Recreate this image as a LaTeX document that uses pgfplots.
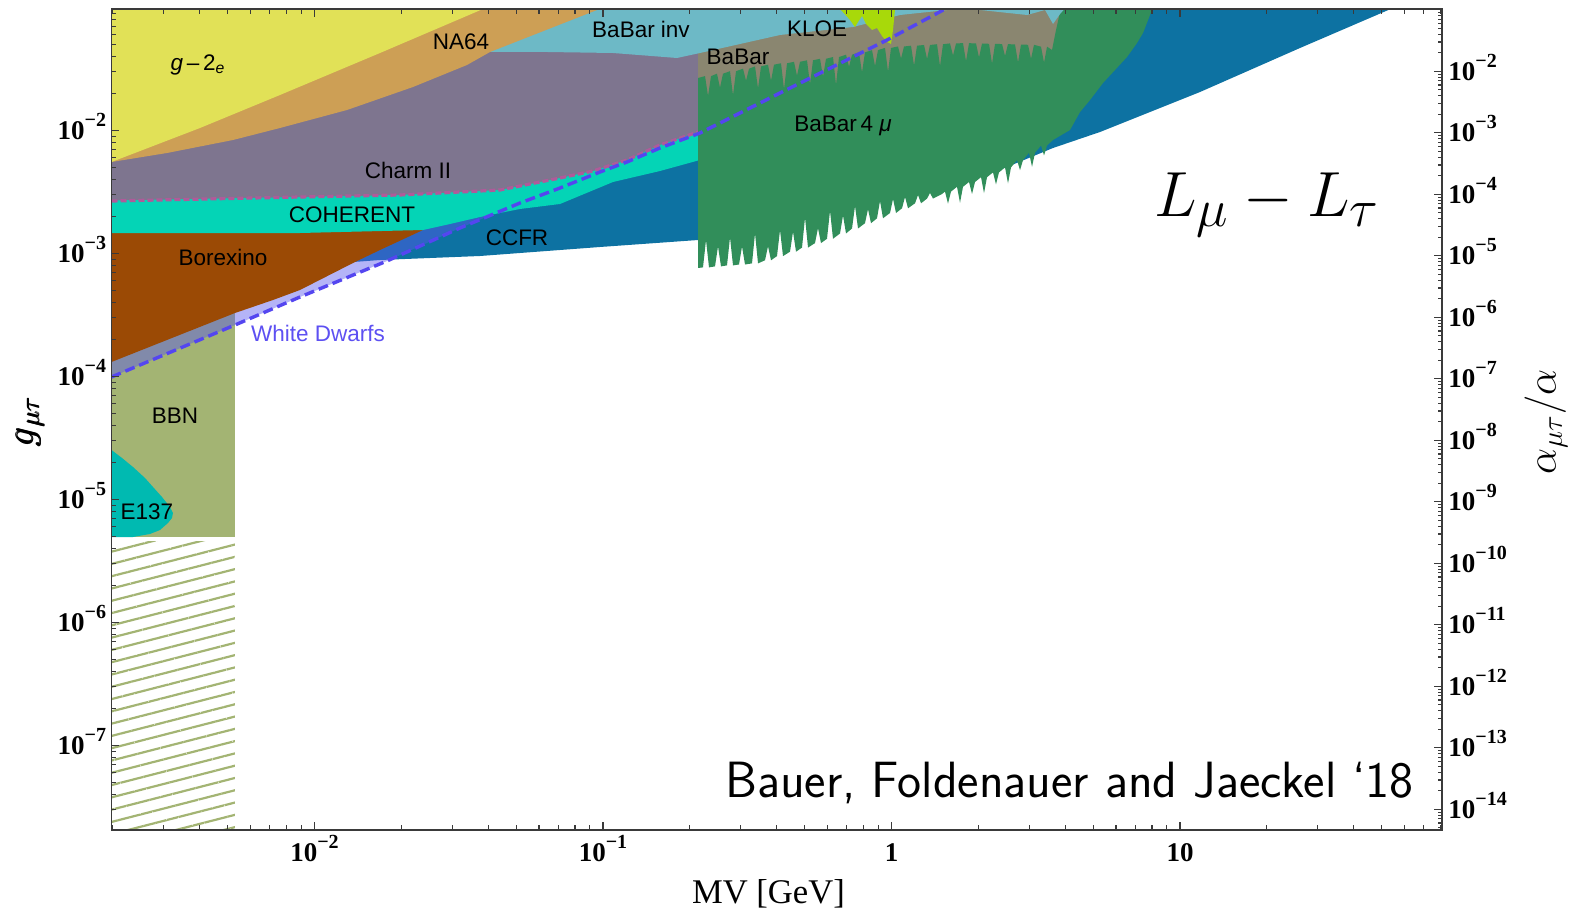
\documentclass[border=0pt]{standalone}
\usepackage{amsmath}
\usepackage{fontspec}
\usepackage{graphicx}
\usepackage{pgfplots}
\pgfplotsset{compat=1.18}
\usetikzlibrary{patterns.meta}

\newfontfamily\lsans{Liberation Sans}
\newfontfamily\lserif{Liberation Serif}

\definecolor{gtwo}{HTML}{E1E157}
\definecolor{nasf}{HTML}{CD9F55}
\definecolor{binv}{HTML}{6DB9C6}
\definecolor{charm}{HTML}{7E758F}
\definecolor{coh}{HTML}{04D4B6}
\definecolor{borex}{HTML}{9B4A05}
\definecolor{ccfr}{HTML}{0D72A2}
\definecolor{wdfill}{HTML}{5858ED}
\definecolor{wdline}{HTML}{5446F0}
\definecolor{wdtext}{HTML}{5D50F2}
\definecolor{bbn}{HTML}{A3B473}
\definecolor{eoneseven}{HTML}{00BAB1}
\definecolor{babar}{HTML}{8A8670}
\definecolor{babarfour}{HTML}{318E5A}
\definecolor{kloe}{HTML}{A8D90A}
\definecolor{charmline}{HTML}{B05A9A}
\definecolor{axgray}{HTML}{3A3A3A}

% bold power-of-ten tick labels
\newcommand\tlab[1]{10\raisebox{6.5pt}[0pt][0pt]{\fontsize{10pt}{10pt}\selectfont −#1}}
\newcommand\gsize{\fontsize{20.74pt}{24pt}\selectfont}
\newcommand\asize{\fontsize{20.74pt}{24pt}\selectfont}
\newcommand\mvfont{\lserif\fontsize{17.3pt}{20pt}\selectfont}
\newcommand\lsize{\fontsize{24.88pt}{30pt}\selectfont}
\newcommand\bfjfont{\sffamily\fontsize{25.5pt}{30pt}\selectfont}
\newcommand\labfont{\lsans\fontsize{11.25pt}{13pt}\selectfont}
\newcommand\tickfont{\lserif\bfseries\fontsize{13.5pt}{15pt}\selectfont}

% minor log ticks 2..9 x 10^e for e = #2..#3
\newcommand\buildminors[3]{%
  \gdef#1{}%
  \foreach \e in {#2,...,#3}{%
    \foreach \m in {2,...,9}{%
      \xdef#1{#1\m e\e,}%
    }%
  }%
  \xdef#1{#1 1e5}%
}
\buildminors\xminors{-3}{1}
\buildminors\yminors{-8}{-1}
\buildminors\rminors{-15}{-1}

\pgfplotsset{
  panel/.style={scale only axis, width=665.25pt, height=410.5pt,
    at={(0,0)}, anchor=south west},
  scaleframe/.style={
    axis line style={draw=axgray, line width=0.8pt, -},
    tick align=inside,
    tick style={axgray, line width=0.6pt},
    tick label style={font=\tickfont},
  },
}
\tikzset{lab/.style={font=\labfont, inner sep=0pt}}

\begin{document}
\begin{tikzpicture}
\path[use as bounding box] (-55.75pt,-41pt) rectangle (728.75pt,415pt);

% exclusion regions, in log10(M_V/GeV) and log10(g)
\begin{axis}[panel, hide axis,
  xmin=-2.7036, xmax=1.908, ymin=-7.687, ymax=-1.0122]

% CCFR
\addplot[draw=none, fill=ccfr] coordinates {(-2.8,-3.1342) (-1.9116,-3.0773) (-1.773,-3.0529) (-1.4263,-3.0204) (-1.0104,-2.9472) (-0.6707,-2.8903) (-0.1438,-2.6057) (0.2028,-2.4675) (0.4003,-2.2968) (0.5598,-2.1423) (0.7227,-2.0122) (1.0693,-1.6871) (1.4159,-1.3293) (1.7383,-1.0041) (1.8839,-0.858) (2.0,-0.8) (-2.8,-0.8)} -- cycle;

% BBN
\addplot[draw=none, fill=bbn] coordinates {(-2.8,-5.3049) (-2.2756,-5.3049) (-2.2756,-3.0) (-2.8,-3.0)} -- cycle;
\addplot[draw=none, pattern={Lines[angle=14.4,distance=5.95pt,line width=1.1pt]}, pattern color=bbn] coordinates {(-2.8,-7.8) (-2.2756,-7.8) (-2.2756,-5.34) (-2.8,-5.34)} -- cycle;

% E137
\addplot[draw=none, fill=eoneseven] coordinates {(-2.8,-4.5976) (-2.7036,-4.5976) (-2.6672,-4.6626) (-2.6291,-4.7358) (-2.5875,-4.8252) (-2.5598,-4.8984) (-2.5286,-4.9797) (-2.5009,-5.0610) (-2.4905,-5.1098) (-2.4939,-5.1504) (-2.5078,-5.1911) (-2.5355,-5.2480) (-2.5702,-5.2805) (-2.6291,-5.3049) (-2.8,-5.3049)} -- cycle;

% White dwarfs
\addplot[draw=none, fill=wdfill, fill opacity=0.45] coordinates {(-2.8,-4.0993) (-2.7036,-4.0041) (-2.2756,-3.5813) (-2.0503,-3.3537) (-1.7487,-3.061) (-1.4957,-2.7927) (-1.2877,-2.5895) (-1.149,-2.4675) (-1.0104,-2.3374) (-0.9168,-2.2561) (-0.8024,-2.1423) (-0.6638,-2.0204) (-0.5251,-1.8578) (-0.3865,-1.6952) (-0.0156,-1.2643) (0.1924,-1.0041) (0.2548,-0.9228) (0.26,-0.8) (-2.8,-0.8)} -- cycle;

% Borexino
\addplot[draw=none, fill=borex] coordinates {(-2.8,-2.75) (-1.5997,-2.75) (-1.6239,-2.809) (-1.773,-2.9716) (-1.8596,-3.0691) (-2.0503,-3.2968) (-2.1438,-3.3781) (-2.2756,-3.4838) (-2.7036,-3.8821) (-2.8,-3.9718)} -- cycle;

% COHERENT
\addplot[draw=none, fill=coh] coordinates {(-2.8,-2.8334) (-2.0503,-2.8334) (-1.6239,-2.809) (-1.5303,-2.7602) (-1.4263,-2.7033) (-1.2877,-2.6382) (-1.149,-2.5976) (-0.9653,-2.4187) (-0.8024,-2.3293) (-0.6638,-2.2398) (-0.5945,-2.1992) (-0.5945,-1.5) (-2.8,-1.5)} -- cycle;

% Charm II
\addplot[draw=none, fill=charm] coordinates {(-2.8,-2.5732) (-2.0503,-2.5407) (-1.7036,-2.5244) (-1.357,-2.4838) (-1.149,-2.3862) (-1.0347,-2.3293) (-0.9168,-2.2398) (-0.8024,-2.1179) (-0.6707,-2.0122) (-0.5945,-1.9553) (-0.5945,-0.8) (-2.8,-0.8)} -- cycle;
\addplot[charmline, line width=1.6pt, dash pattern=on 3pt off 1.5pt] coordinates {(-2.7036,-2.5732) (-2.0503,-2.5407) (-1.7036,-2.5244) (-1.357,-2.4838) (-1.149,-2.3862) (-1.0347,-2.3293) (-0.9168,-2.2398) (-0.8024,-2.1179) (-0.6707,-2.0122)};

% BaBar
\addplot[draw=none, fill=babar] coordinates {(-0.6707,-0.8) (0.6187,-0.8) (0.6187,-1.5488) (-0.6707,-1.8334)} -- cycle;

% BaBar 4 mu
\addplot[draw=none, fill=babarfour] coordinates {
(-0.6707,-1.5732)
(-0.6464,-1.5578) (-0.6360,-1.7204) (-0.6256,-1.5578)
(-0.6049,-1.5382) (-0.5945,-1.6521) (-0.5841,-1.5382)
(-0.5598,-1.5179) (-0.5494,-1.7130) (-0.5390,-1.5179)
(-0.5147,-1.4976) (-0.5043,-1.5952) (-0.4939,-1.4976)
(-0.4731,-1.4789) (-0.4627,-1.6578) (-0.4523,-1.4789)
(-0.4281,-1.4651) (-0.4177,-1.5952) (-0.4073,-1.4651)
(-0.3830,-1.4537) (-0.3726,-1.6651) (-0.3622,-1.4537)
(-0.3380,-1.4415) (-0.3276,-1.5553) (-0.3172,-1.4415)
(-0.2929,-1.4293) (-0.2825,-1.6244) (-0.2721,-1.4293)
(-0.2478,-1.4171) (-0.2374,-1.5634) (-0.2270,-1.4171)
(-0.2028,-1.4025) (-0.1924,-1.6301) (-0.1820,-1.4025)
(-0.1577,-1.3838) (-0.1473,-1.4813) (-0.1369,-1.3838)
(-0.1127,-1.3651) (-0.1023,-1.5277) (-0.0919,-1.3651)
(-0.0676,-1.3464) (-0.0572,-1.4765) (-0.0468,-1.3464)
(-0.0225,-1.3285) (-0.0121,-1.5236) (-0.0017,-1.3285)
(0.0225,-1.3171) (0.0329,-1.4147) (0.0433,-1.3171)
(0.0676,-1.3106) (0.0780,-1.4732) (0.0884,-1.3106)
(0.1127,-1.3049) (0.1231,-1.4187) (0.1334,-1.3049)
(0.1577,-1.2984) (0.1681,-1.4773) (0.1785,-1.2984)
(0.2028,-1.2919) (0.2132,-1.3895) (0.2236,-1.2919)
(0.2478,-1.2899) (0.2582,-1.4362) (0.2686,-1.2899)
(0.2929,-1.2927) (0.3033,-1.4066) (0.3137,-1.2927)
(0.3380,-1.2952) (0.3484,-1.4577) (0.3588,-1.2952)
(0.3830,-1.2976) (0.3934,-1.3952) (0.4038,-1.2976)
(0.4281,-1.3009) (0.4385,-1.4472) (0.4489,-1.3009)
(0.4731,-1.3033) (0.4835,-1.4171) (0.4939,-1.3033)
(0.5182,-1.3187) (0.5286,-1.4488) (0.5390,-1.3187)
(0.5563,-1.3456) (0.5702,-1.1829) (0.5841,-1.0366) (0.6049,-0.9797) (0.6049,-0.9) (0.9064,-0.9)
(0.9064,-0.9797) (0.8960,-1.0610) (0.8718,-1.2073) (0.8510,-1.2886) (0.8163,-1.4025) (0.7747,-1.5082) (0.7331,-1.6139) (0.6881,-1.7521) (0.6534,-1.8497) (0.6187,-1.9960) (0.5598,-2.0773)
(0.5390,-2.1220) (0.5286,-2.2033) (0.5182,-2.1220)
(0.4974,-2.1813) (0.4870,-2.2952) (0.4766,-2.1813)
(0.4558,-2.2407) (0.4454,-2.3220) (0.4350,-2.2407)
(0.4142,-2.3000) (0.4038,-2.4301) (0.3934,-2.3000)
(0.3726,-2.3407) (0.3622,-2.4382) (0.3518,-2.3407)
(0.3310,-2.3797) (0.3206,-2.5098) (0.3102,-2.3797)
(0.2894,-2.4187) (0.2790,-2.5163) (0.2686,-2.4187)
(0.2478,-2.4577) (0.2374,-2.5878) (0.2270,-2.4577)
(0.2062,-2.4968) (0.1958,-2.5943) (0.1854,-2.4968)
(0.1750,-2.5163)
(0.1438,-2.5537) (0.1334,-2.5082) (0.1231,-2.5537)
(0.1023,-2.5919) (0.0919,-2.5244) (0.0815,-2.5919)
(0.0572,-2.6325) (0.0468,-2.5407) (0.0364,-2.6325)
(0.0156,-2.6708) (0.0052,-2.5569) (-0.0052,-2.6708)
(-0.0295,-2.7139) (-0.0399,-2.5732) (-0.0503,-2.7139)
(-0.0711,-2.7537) (-0.0815,-2.6399) (-0.0919,-2.7537)
(-0.1161,-2.7968) (-0.1265,-2.6139) (-0.1369,-2.7968)
(-0.1577,-2.8374) (-0.1681,-2.6911) (-0.1785,-2.8374)
(-0.2028,-2.8805) (-0.2132,-2.6529) (-0.2236,-2.8805)
(-0.2444,-2.9155) (-0.2548,-2.7935) (-0.2652,-2.9155)
(-0.2894,-2.9521) (-0.2998,-2.7082) (-0.3102,-2.9521)
(-0.3310,-2.9854) (-0.3414,-2.8228) (-0.3518,-2.9854)
(-0.3761,-3.0212) (-0.3865,-2.8098) (-0.3969,-3.0212)
(-0.4177,-3.0553) (-0.4281,-2.9415) (-0.4385,-3.0553)
(-0.4627,-3.0805) (-0.4731,-2.8366) (-0.4835,-3.0805)
(-0.5078,-3.0895) (-0.5182,-2.9431) (-0.5286,-3.0895)
(-0.5494,-3.0968) (-0.5598,-2.8691) (-0.5702,-3.0968)
(-0.5910,-3.1049) (-0.6014,-2.9423) (-0.6118,-3.1049)
(-0.6326,-3.1130) (-0.6430,-2.8903) (-0.6534,-3.1130)
(-0.6707,-3.1179)} -- cycle;

% BaBar invisible
\addplot[draw=none, fill=binv] coordinates {(-1.461,-1.3618) (-1.1941,-1.3618) (-0.9653,-1.37) (-0.7435,-1.4106) (-0.6638,-1.37) (-0.5251,-1.2968) (-0.3865,-1.2236) (-0.1334,-1.1586) (0.0295,-1.061) (0.1924,-1.0203) (0.3068,-1.0203) (0.4697,-1.061) (0.5321,-1.0203) (0.5598,-1.1342) (0.5841,-1.0529) (0.6118,-0.9797) (0.62,-0.8) (-1.461,-0.8)} -- cycle;

% NA64
\addplot[draw=none, fill=nasf] coordinates {(-2.8,-2.3353) (-2.7036,-2.2561) (-2.5113,-2.183) (-2.2825,-2.0773) (-2.1196,-1.9797) (-1.8873,-1.8334) (-1.6586,-1.6464) (-1.4714,-1.4675) (-1.3917,-1.3618) (-1.2184,-1.2025) (-1.0208,-1.0203) (-0.9411,-0.9472) (-0.93,-0.8) (-2.8,-0.8)} -- cycle;

% electron g-2
\addplot[draw=none, fill=gtwo] coordinates {(-2.8,-2.3353) (-2.7036,-2.2561) (-2.3969,-1.9797) (-2.1196,-1.7114) (-1.773,-1.37) (-1.4159,-1.0122) (-1.3743,-0.939) (-1.37,-0.8) (-2.8,-0.8)} -- cycle;

% KLOE
\addplot[draw=none, fill=kloe] coordinates {(-0.1785,-0.95) (-0.1785,-1.0122) (-0.1438,-1.1016) (-0.1265,-1.1586) (-0.1161,-1.1179) (-0.1023,-1.0691) (-0.0884,-1.1342) (-0.0676,-1.1829) (-0.0503,-1.1667) (-0.0329,-1.2317) (-0.0156,-1.2805) (-0.0017,-1.2968) (0.0052,-1.1829) (0.0121,-1.0122) (0.0121,-0.95)} -- cycle;

% white dwarf bound
\addplot[wdline, line width=1.7pt, dash pattern=on 5pt off 2.5pt] coordinates {(-2.7036,-4.0041) (-2.2756,-3.5813) (-2.0503,-3.3537) (-1.7487,-3.061) (-1.4957,-2.7927) (-1.2877,-2.5895) (-1.149,-2.4675) (-1.0104,-2.3374) (-0.9168,-2.2561) (-0.8024,-2.1423) (-0.6638,-2.0204) (-0.5251,-1.8578) (-0.3865,-1.6952) (-0.0156,-1.2643) (0.1924,-1.0041) (0.2548,-0.9228)};

% region names
\node[lab] at (axis cs:-2.4038,-1.4675) {\textit{g}\,–\,2\textsubscript{\textit{e}}};
\node[lab] at (axis cs:-1.4922,-1.2805) {NA64};
\node[lab] at (axis cs:-0.8683,-1.1748) {BaBar inv};
\node[lab] at (axis cs:-0.5321,-1.4025) {BaBar};
\node[lab] at (axis cs:-0.2582,-1.1748) {KLOE};
\node[lab] at (axis cs:-0.1681,-1.9635) {BaBar\,4 \textit{μ}};
\node[lab] at (axis cs:-1.6759,-2.3212) {Charm II};
\node[lab] at (axis cs:-1.87,-2.687) {COHERENT};
\node[lab] at (axis cs:-1.2981,-2.874) {CCFR};
\node[lab] at (axis cs:-2.3172,-3.0285) {Borexino};
\node[lab, text=wdtext] at (axis cs:-1.9879,-3.6464) {White Dwarfs};
\node[lab] at (axis cs:-2.4835,-4.321) {BBN};
\node[lab] at (axis cs:-2.5806,-5.1016) {E137};

\node[inner sep=0pt] at (axis cs:1.3016,-2.6057) {\scalebox{1.283}{\lsize $L_\mu - L_\tau$}};
\node[anchor=base east, inner sep=0pt] at (axis cs:1.8111,-7.4187) {\bfjfont Bauer, Foldenauer and Jaeckel ‘18};
\end{axis}

% mass and coupling scales
\begin{axis}[panel, scaleframe, xmode=log, ymode=log,
  xmin=1.979e-3, xmax=80.9, ymin=2.056e-8, ymax=0.09723,
  major tick length=4pt, minor tick length=2.5pt,
  xtick={0.01,0.1,1,10}, xticklabels={\tlab{2},\tlab{1},1,10},
  minor xtick/.expanded={\xminors},
  ytick={1e-7,1e-6,1e-5,1e-4,1e-3,1e-2},
  yticklabels={\tlab{7},\tlab{6},\tlab{5},\tlab{4},\tlab{3},\tlab{2}},
  minor ytick/.expanded={\yminors},
  xtick pos=both, xticklabel pos=lower, ytick pos=left, yticklabel pos=left,
  xticklabel style={anchor=north, inner sep=0pt, yshift=-6.5pt},
  yticklabel style={anchor=east, inner sep=0pt, xshift=-2.5pt},
]
\end{axis}

% alpha_mutau / alpha scale
\begin{axis}[panel, scaleframe, ymode=log, xmin=0, xmax=1,
  ymin=4.61e-15, ymax=0.1031,
  axis x line=none, axis y line*=right,
  major tick length=4pt, minor tick length=2pt,
  ytick={1e-14,1e-13,1e-12,1e-11,1e-10,1e-9,1e-8,1e-7,1e-6,1e-5,1e-4,1e-3,1e-2},
  yticklabels={\tlab{14},\tlab{13},\tlab{12},\tlab{11},\tlab{10},\tlab{9},\tlab{8},\tlab{7},\tlab{6},\tlab{5},\tlab{4},\tlab{3},\tlab{2}},
  minor ytick/.expanded={\rminors},
  yticklabel style={anchor=west, inner sep=0pt, xshift=3pt},
]
\end{axis}

% axis titles
\path (-40.75pt,204.5pt) node {\rotatebox{90}{\scalebox{0.92}{\gsize$\pmb{g}_{\pmb{\mu\tau}}$}}};
\path (717.25pt,204pt) node {\rotatebox{90}{\asize$\alpha_{\mu\tau}/\alpha$}};
\path (328.5pt,-36.5pt) node[anchor=base] {\mvfont MV [GeV]};
\end{tikzpicture}
\end{document}
